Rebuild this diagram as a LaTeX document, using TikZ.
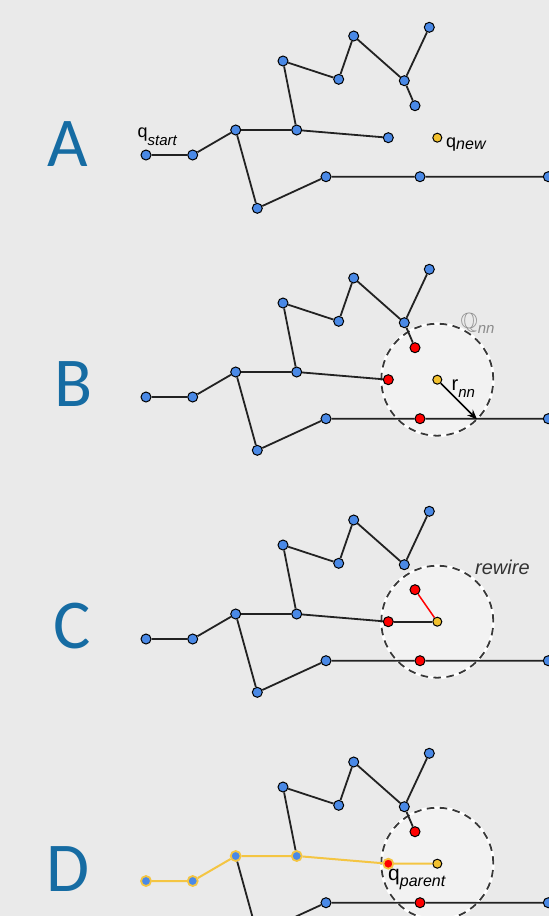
\documentclass[tikz,border=0pt]{standalone}
\usepackage{fontspec}
\usepackage{amssymb}
\setmainfont{Liberation Sans}
\newfontfamily\letterfont{Carlito}
\usetikzlibrary{arrows.meta}
\pgfdeclarelayer{back}
\pgfdeclarelayer{bg}
\pgfsetlayers{back,bg,main}
\definecolor{bgc}{HTML}{EAEAEA}
\definecolor{circfill}{HTML}{F2F2F2}
\definecolor{nblue}{HTML}{4A89E6}
\definecolor{nred}{HTML}{FF0000}
\definecolor{nyel}{HTML}{F2C12E}
\definecolor{pathyel}{HTML}{F4C542}
\definecolor{lblue}{HTML}{166CA3}
\definecolor{edgec}{HTML}{222222}
\tikzset{
  edge/.style={line width=1.8pt, draw=edgec},
  yedge/.style={line width=2pt, draw=pathyel},
  redge/.style={line width=1.5pt, draw=nred},
  dot/.style={circle, draw=black, line width=1pt, inner sep=0pt, minimum size=10pt},
  bnode/.style={dot, fill=nblue},
  rnode/.style={dot, fill=nred},
  ynode/.style={dot, fill=nyel, minimum size=9pt},
  ybnode/.style={dot, fill=nblue, draw=pathyel, line width=1.8pt},
  yrnode/.style={dot, fill=nred, draw=pathyel, line width=1.8pt},
  letter/.style={anchor=base, inner sep=0pt, text=lblue, font=\letterfont\fontsize{70}{70}\selectfont},
  nbhd/.style={circle, minimum size=112pt, inner sep=0pt, fill=circfill},
  lab/.style={anchor=base west, inner sep=0pt},
}
% #1 prefix, #2 y offset, #3 style of start path nodes, #4 style n5, #5 style n11, #6 style n14, #7 style qnew
\newcommand\mktree[7]{%
  \node[#3] (#1s)  at (146,155+#2) {};
  \node[#3] (#1n2) at (192.7,155+#2) {};
  \node[#3] (#1n3) at (235.7,130+#2) {};
  \node[#3] (#1n4) at (296.7,130+#2) {};
  \node[#4] (#1n5) at (388.3,137.7+#2) {};
  \node[bnode] (#1n6) at (283,61+#2) {};
  \node[bnode] (#1n7) at (338.7,79.3+#2) {};
  \node[bnode] (#1n8) at (353.7,36+#2) {};
  \node[bnode] (#1n9) at (404.3,80.7+#2) {};
  \node[bnode] (#1n10) at (429.3,27.3+#2) {};
  \node[#5] (#1n11) at (415,105.7+#2) {};
  \node[bnode] (#1n12) at (257.3,208.3+#2) {};
  \node[bnode] (#1n13) at (326,176.7+#2) {};
  \node[#6] (#1n14) at (420,176.7+#2) {};
  \node[bnode] (#1n15) at (548.3,176.7+#2) {};
  \node[#7] (#1q) at (437.3,137.7+#2) {};
  \draw[edge] (#1n4) -- (#1n6) -- (#1n7) -- (#1n8) -- (#1n9) -- (#1n10);
  \draw[edge] (#1n3) -- (#1n12) -- (#1n13) -- (#1n14) -- (#1n15);
}
\newcommand\mkstart[1]{%
  \draw[edge] (#1s) -- (#1n2) -- (#1n3) -- (#1n4) -- (#1n5);
}
\newcommand\mkcircle[1]{%
  \begin{pgfonlayer}{bg}
    \node[nbhd] (#1c) at (#1q) {};
    \draw[white, line width=2.8pt] (#1c.center) circle[radius=56pt];
    \draw[edgec!90, line width=1.8pt, dash pattern=on 7.5pt off 5.5pt] (#1c.center) circle[radius=56pt];
  \end{pgfonlayer}
}
\begin{document}
\begin{tikzpicture}[x=1pt,y=-1pt]
\begin{pgfonlayer}{back}
\fill[bgc] (0,0) rectangle (549,916);
\end{pgfonlayer}
\useasboundingbox (0,0) rectangle (549,916);
\clip (0,0) rectangle (549,916);

% ---------- A ----------
\node[letter] (LA) at (67.5,166) {A};
\mktree{A}{0}{bnode}{bnode}{bnode}{bnode}{ynode}
\mkstart{A}
\draw[edge] (An9) -- (An11);
\node[lab] (lstart) at (137.5,137) {\fontsize{18}{18}\selectfont q\raisebox{-8pt}{\fontsize{15}{15}\selectfont\itshape start}};
\node[lab] (lnew) at (446,147) {\fontsize{18}{18}\selectfont q\raisebox{-2pt}{\fontsize{16}{16}\selectfont\itshape new}};

% ---------- B ----------
\node[letter] (LB) at (73.5,406) {B};
\mktree{B}{242}{bnode}{rnode}{rnode}{rnode}{ynode}
\mkstart{B}
\draw[edge] (Bn9) -- (Bn11);
\mkcircle{B}
\draw[line width=1.6pt, -{Stealth[length=10pt,width=8pt]}] (Bq) -- (Bc.-45);
\node[lab] (lrnn) at (451.5,390) {\fontsize{20}{20}\selectfont r\raisebox{-7pt}{\fontsize{15}{15}\selectfont\itshape nn}};
\node[lab, text=black!45] (lQnn) at (460.5,328) {\fontsize{22}{22}\selectfont$\mathbb{Q}$\raisebox{-5pt}{\fontsize{15}{15}\selectfont\itshape nn}};

% ---------- C ----------
\node[letter] (LC) at (72,648) {C};
\mktree{C}{484}{bnode}{rnode}{rnode}{rnode}{ynode}
\mkstart{C}
\draw[edge] (Cn5) -- (Cq);
\draw[redge] (Cn11) -- (Cq);
\mkcircle{C}
\node[lab, text=black!80] (lrew) at (475,574) {\fontsize{20}{20}\selectfont\itshape rewire};

% ---------- D ----------
\node[letter] (LD) at (68,891) {D};
\mktree{D}{726}{ybnode}{yrnode}{rnode}{rnode}{ynode}
\draw[edge] (Dn9) -- (Dn11);
\draw[yedge] (Ds) -- (Dn2) -- (Dn3) -- (Dn4) -- (Dn5) -- (Dq);
\mkcircle{D}
\node[lab] (lpar) at (388,880) {\fontsize{21}{21}\selectfont q\raisebox{-6pt}{\fontsize{16}{16}\selectfont\itshape parent}};
\end{tikzpicture}
\end{document}
